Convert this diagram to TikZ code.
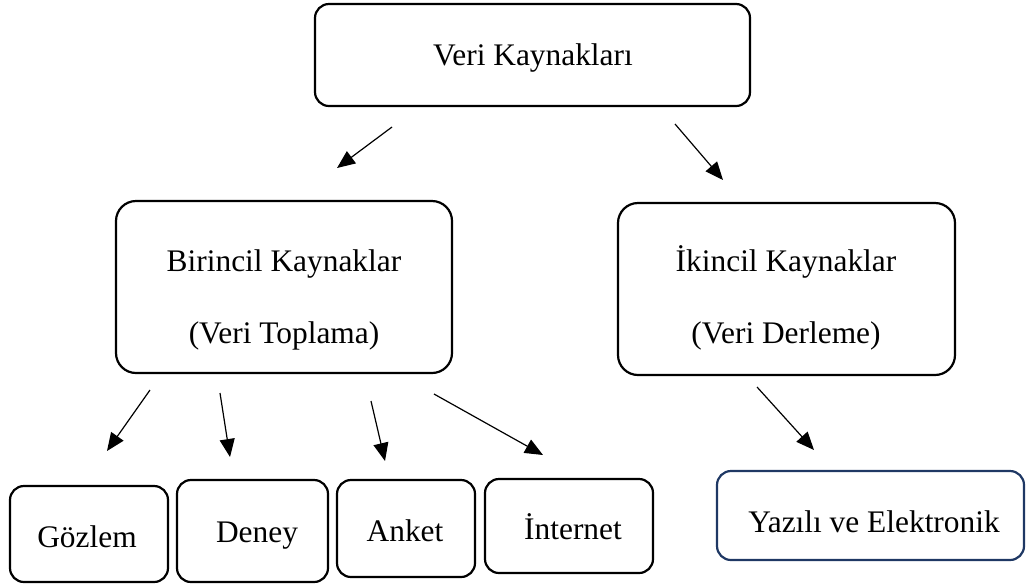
\documentclass[tikz,border=0pt]{standalone}
\usepackage{fontspec}
\setmainfont{Liberation Serif}
\usetikzlibrary{arrows.meta}
\definecolor{navyline}{RGB}{31,56,100}
\begin{document}
\begin{tikzpicture}[x=0.5pt,y=-0.5pt,
  box/.style={draw=black, line width=1.1pt, rounded corners=7pt, inner sep=0pt},
  bigbox/.style={box, rounded corners=10pt},
  lbl/.style={font=\fontsize{15.7}{36}\selectfont, inner sep=0pt, anchor=base},
  arr/.style={-{Triangle[length=9pt,width=7.5pt]}, line width=0.6pt}]
\useasboundingbox (0,0) rectangle (1026,585);

% boxes
\node[box, minimum width=217.5pt, minimum height=51pt] (src) at (532.5,55) {};
\node[bigbox, minimum width=168pt, minimum height=86pt] (prim) at (284,287) {};
\node[bigbox, minimum width=168.5pt, minimum height=86pt] (sec) at (786.5,289) {};
\node[box, minimum width=79pt, minimum height=48pt] (obs) at (89,534) {};
\node[box, minimum width=75.5pt, minimum height=51pt] (exp) at (252.5,531) {};
\node[box, minimum width=69pt, minimum height=48.5pt] (surv) at (406,528.5) {};
\node[box, minimum width=84pt, minimum height=47pt] (web) at (569,526) {};
\node[box, draw=navyline, minimum width=153.5pt, minimum height=44.5pt] (doc) at (870.5,515.5) {};

% labels
\node[lbl] (srcT) at (533,65) {Veri Kaynakları};
\node[lbl] (primA) at (284,271) {Birincil Kaynaklar};
\node[lbl] (primB) at (284,343) {(Veri Toplama)};
\node[lbl] (secA) at (786,271) {İkincil Kaynaklar};
\node[lbl] (secB) at (786,343) {(Veri Derleme)};
\node[lbl] (obsT) at (87,547) {Gözlem};
\node[lbl] (expT) at (257,542) {Deney};
\node[lbl] (survT) at (405,541) {Anket};
\node[lbl] (webT) at (573,539) {İnternet};
\node[lbl] (docT) at (874,532) {Yazılı ve Elektronik};

% arrow end points
\coordinate (a1s) at (392,127); \coordinate (a1e) at (337,168);
\coordinate (a2s) at (675,124); \coordinate (a2e) at (723,180);
\coordinate (a3s) at (150,390); \coordinate (a3e) at (107,451);
\coordinate (a4s) at (220,393); \coordinate (a4e) at (230,457);
\coordinate (a5s) at (371,401); \coordinate (a5e) at (385,461);
\coordinate (a6s) at (434,394); \coordinate (a6e) at (543,455);
\coordinate (a7s) at (757,387); \coordinate (a7e) at (814,450);

\draw[arr] (a1s) -- (a1e);
\draw[arr] (a2s) -- (a2e);
\draw[arr] (a3s) -- (a3e);
\draw[arr] (a4s) -- (a4e);
\draw[arr] (a5s) -- (a5e);
\draw[arr] (a6s) -- (a6e);
\draw[arr] (a7s) -- (a7e);
\end{tikzpicture}
\end{document}
